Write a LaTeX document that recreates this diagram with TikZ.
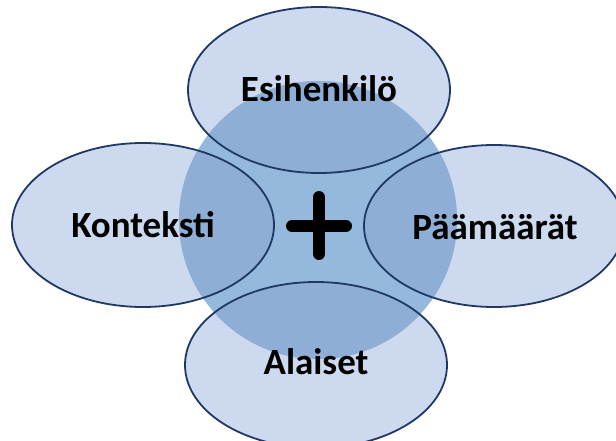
\documentclass[tikz,border=0pt]{standalone}
\usepackage{fontspec}
\setmainfont{Carlito}
\definecolor{elfill}{RGB}{204,217,239}
\definecolor{cirfill}{RGB}{148,185,220}
\definecolor{ovfill}{RGB}{142,174,213}
\definecolor{elline}{RGB}{31,56,100}
\begin{document}
\begin{tikzpicture}[x=1pt,y=-1pt,
  lbl/.style={font=\fontsize{37}{44}\selectfont\bfseries, text=black, inner sep=0pt},
  outl/.style={draw=elline, line width=1.8pt},
  plusbar/.style={line width=12pt, line cap=round, black}]
\useasboundingbox (0,0) rectangle (616,441);
% ellipse shapes
\def\eA{(319,90) ellipse [x radius=131, y radius=83]}
\def\eB{(143,225) ellipse [x radius=131, y radius=82]}
\def\eC{(494,226) ellipse [x radius=130, y radius=81]}
\def\eD{(316,365) ellipse [x radius=131, y radius=83]}
\def\circ{(318,220) circle [radius=139]}
\fill[elfill] \eA; \fill[elfill] \eB; \fill[elfill] \eC; \fill[elfill] \eD;
\fill[cirfill] \circ;
\begin{scope}\clip \circ; \fill[ovfill] \eA; \fill[ovfill] \eB; \fill[ovfill] \eC; \fill[ovfill] \eD; \end{scope}
\draw[outl] \eA; \draw[outl] \eB; \draw[outl] \eC; \draw[outl] \eD;
\node[lbl] (esi) at (319,89) {Esihenkilö};
\node[lbl] (kon) at (143,225) {Konteksti};
\node[lbl] (paa) at (495,227) {Päämäärät};
\node[lbl] (ala) at (316,362) {Alaiset};
\coordinate (pl) at (292,226); \coordinate (pr) at (346,226);
\coordinate (pt) at (319,197); \coordinate (pb) at (319,254);
\draw[plusbar] (pl) -- (pr);
\draw[plusbar] (pt) -- (pb);
\end{tikzpicture}
\end{document}
